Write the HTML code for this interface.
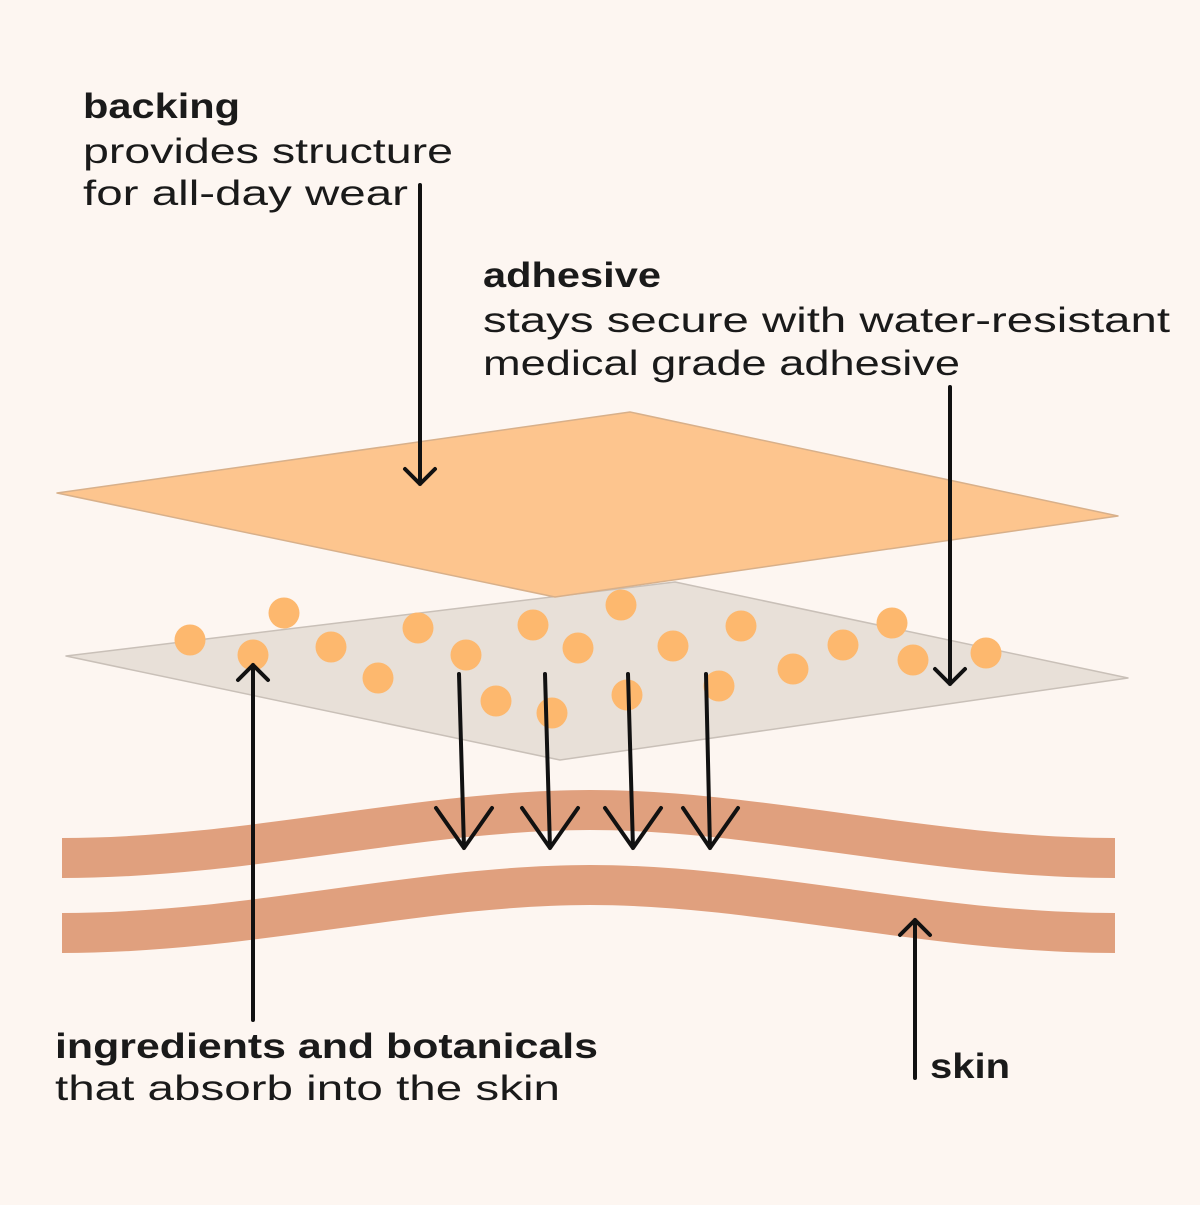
<!DOCTYPE html>
<html><head><meta charset="utf-8"><style>html,body{margin:0;padding:0;background:#fdf6f1}</style></head><body>
<svg width="1200" height="1200" viewBox="0 0 1200 1200" xmlns="http://www.w3.org/2000/svg">
<rect width="1200" height="1200" fill="#fdf6f1"/>
<g font-family="Liberation Sans, sans-serif" font-size="35" fill="#1a1a1a">
<text x="83" y="118" font-weight="bold" textLength="157" lengthAdjust="spacingAndGlyphs">backing</text>
<text x="83" y="163" textLength="370" lengthAdjust="spacingAndGlyphs">provides structure</text>
<text x="83" y="205" textLength="325" lengthAdjust="spacingAndGlyphs">for all-day wear</text>
<text x="483" y="287" font-weight="bold" textLength="178" lengthAdjust="spacingAndGlyphs">adhesive</text>
<text x="483" y="332" textLength="687" lengthAdjust="spacingAndGlyphs">stays secure with water-resistant</text>
<text x="483" y="375" textLength="477" lengthAdjust="spacingAndGlyphs">medical grade adhesive</text>
<text x="55" y="1058" font-weight="bold" textLength="543" lengthAdjust="spacingAndGlyphs">ingredients and botanicals</text>
<text x="55" y="1100" textLength="505" lengthAdjust="spacingAndGlyphs">that absorb into the skin</text>
<text x="930" y="1078" font-weight="bold" textLength="80" lengthAdjust="spacingAndGlyphs">skin</text>
</g>
<path d="M62,858 C250,858 420,810 590,810 C760,810 930,858 1115,858" fill="none" stroke="#e0a07e" stroke-width="40"/>
<path d="M62,933 C250,933 420,885 590,885 C760,885 930,933 1115,933" fill="none" stroke="#e0a07e" stroke-width="40"/>
<polygon points="66,656 675,582 1128,678 560,760" fill="#e8e0d8" stroke="#c9c0b8" stroke-width="1.5" stroke-linejoin="round"/>
<polygon points="57,493 630,412 1118,516 555,597" fill="#fdc58e" stroke="#d8b08a" stroke-width="1.5" stroke-linejoin="round"/>
<g fill="#fdb86e">
<circle cx="190" cy="640" r="15.5"/><circle cx="284" cy="613" r="15.5"/><circle cx="253" cy="655" r="15.5"/>
<circle cx="331" cy="647" r="15.5"/><circle cx="378" cy="678" r="15.5"/><circle cx="418" cy="628" r="15.5"/>
<circle cx="466" cy="655" r="15.5"/><circle cx="496" cy="701" r="15.5"/><circle cx="533" cy="625" r="15.5"/>
<circle cx="552" cy="713" r="15.5"/><circle cx="578" cy="648" r="15.5"/><circle cx="621" cy="605" r="15.5"/>
<circle cx="627" cy="695" r="15.5"/><circle cx="673" cy="646" r="15.5"/><circle cx="719" cy="686" r="15.5"/>
<circle cx="741" cy="626" r="15.5"/><circle cx="793" cy="669" r="15.5"/><circle cx="843" cy="645" r="15.5"/>
<circle cx="892" cy="623" r="15.5"/><circle cx="913" cy="660" r="15.5"/><circle cx="986" cy="653" r="15.5"/>
</g>
<g fill="none" stroke="#111" stroke-width="4" stroke-linecap="round" stroke-linejoin="round">
<path d="M420,185 V484 M405,469 L420,484 L435,469"/>
<path d="M950,387 V684 M935,669 L950,684 L965,669"/>
<path d="M253,1020 V665 M238,680 L253,665 L268,680"/>
<path d="M915,1078 V920 M900,935 L915,920 L930,935"/>
<path d="M459,674 L464,848 M436,808 L464,848 L492,808"/>
<path d="M545,674 L550,848 M522,808 L550,848 L578,808"/>
<path d="M628,674 L633,848 M605,808 L633,848 L661,808"/>
<path d="M706,674 L710,848 M683,808 L710,848 L738,808"/>
</g>
</svg>
</body></html>
